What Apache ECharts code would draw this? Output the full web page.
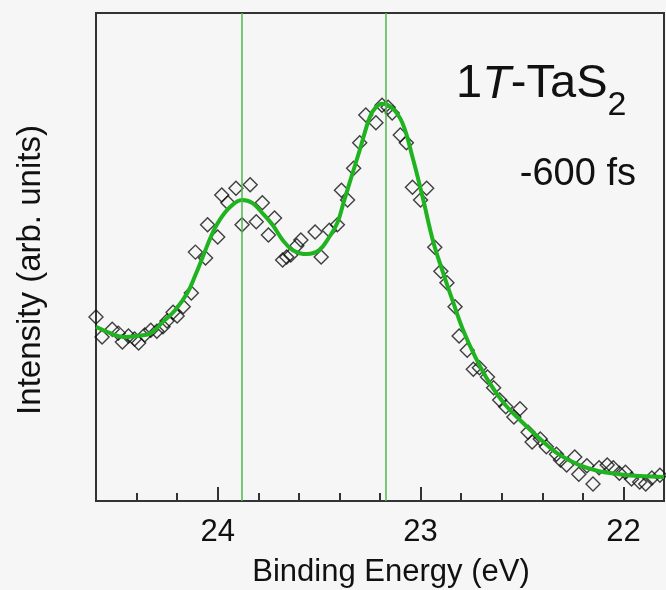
<!DOCTYPE html>
<html>
<head>
<meta charset="utf-8">
<script src="https://cdn.jsdelivr.net/npm/echarts@6/dist/echarts.min.js"></script>
<style>
html,body{margin:0;padding:0;background:#f6f6f6;}
#chart{width:666px;height:590px;}
</style>
</head>
<body>
<div id="chart"></div>
<script>
// Measured points (binding energy in eV, intensity in arb. units)
const pointEnergy = [24.60,24.57,24.52,24.49,24.47,24.44,24.41,24.39,24.36,24.33,24.30,24.27,24.25,24.22,24.20,24.17,24.13,24.11,24.06,24.05,24.00,23.98,23.95,23.91,23.88,23.84,23.81,23.78,23.75,23.72,23.68,23.66,23.64,23.61,23.59,23.52,23.49,23.45,23.41,23.39,23.36,23.33,23.30,23.27,23.22,23.19,23.16,23.14,23.10,23.07,23.04,23.00,22.97,22.93,22.90,22.87,22.83,22.81,22.77,22.74,22.71,22.67,22.64,22.61,22.58,22.54,22.51,22.47,22.45,22.41,22.38,22.33,22.31,22.28,22.24,22.22,22.18,22.15,22.12,22.08,22.05,22.02,21.99,21.96,21.92,21.89,21.86,21.82];
const pointIntensity = [37.7,33.6,35.2,34.4,32.6,33.8,33.2,32.4,34.0,35.0,34.8,35.7,36.9,38.7,37.9,39.8,42.6,51.0,49.8,56.6,54.1,62.7,61.1,64.1,56.6,64.8,57.2,61.1,54.5,58.0,49.4,50.0,50.4,52.3,53.5,55.1,50.0,55.5,56.6,63.7,61.7,68.2,73.4,79.1,77.5,81.1,80.7,79.5,75.0,73.4,64.3,61.7,64.1,52.0,47.1,44.7,39.8,33.8,30.9,27.0,27.3,25.4,23.2,20.7,19.3,17.2,18.9,14.1,12.1,12.7,11.1,9.6,8.4,7.4,9.0,5.5,7.2,3.5,6.8,7.4,6.8,5.7,5.9,4.5,3.9,3.5,4.7,5.3];
// Fit curve
const fitEnergy = [24.60,24.53,24.46,24.40,24.33,24.27,24.21,24.15,24.11,24.07,24.03,23.99,23.94,23.88,23.83,23.78,23.73,23.68,23.63,23.56,23.50,23.45,23.41,23.38,23.35,23.30,23.25,23.22,23.19,23.14,23.09,23.04,22.99,22.94,22.89,22.84,22.79,22.73,22.66,22.59,22.51,22.41,22.32,22.22,22.12,22.02,21.92,21.80];
const fitIntensity = [35.7,34.4,33.6,33.8,34.4,36.7,39.1,42.6,46.3,50.4,54.5,57.6,60.2,61.7,61.1,59.0,56.6,53.5,51.4,50.6,51.4,54.1,57.0,61.1,65.2,71.9,78.7,80.7,81.4,80.5,77.5,70.5,62.3,53.5,46.9,40.8,35.0,29.5,24.2,20.1,16.6,12.7,9.6,7.4,6.1,5.5,5.1,4.9];
// Peak marker lines
const peakLines = [23.875, 23.17];
// Axis
const xMin = 21.8, xMax = 24.6, minorStep = 0.2;
const majorTicks = [22, 23, 24];

const tickCats = [];
for (let i = 0; xMin + i * minorStep <= xMax + 1e-9; i++) {
  tickCats.push((xMin + i * minorStep).toFixed(1));
}
const isMajor = v => majorTicks.some(m => Math.abs(Number(v) - m) < 1e-6);

const FONT = '"Liberation Sans", Arial, sans-serif';
const chart = echarts.init(document.getElementById('chart'), null, {renderer: 'canvas'});
chart.setOption({
  backgroundColor: '#f6f6f6',
  animation: false,
  grid: {left: 96, right: 2, top: 13, bottom: 89, show: true, borderColor: '#333', borderWidth: 2,
    backgroundColor: 'transparent', containLabel: false, outerBoundsMode: 'none'},
  xAxis: [{
    type: 'value', min: xMin, max: xMax, interval: minorStep, inverse: true,
    axisLine: {show: true, lineStyle: {color: '#333', width: 2}},
    axisTick: {show: true, inside: true, length: 8, lineStyle: {color: '#333', width: 2}},
    axisLabel: {show: true, margin: 16, color: '#111', fontSize: 31, fontFamily: FONT,
      formatter: v => isMajor(v) ? String(Math.round(v)) : ''},
    splitLine: {show: false},
    name: 'Binding Energy (eV)', nameLocation: 'middle', nameGap: 56,
    nameTextStyle: {color: '#111', fontSize: 31, fontFamily: FONT, padding: [0, 0, 0, 22]}
  }, {
    type: 'category', data: tickCats, boundaryGap: false, inverse: true, position: 'bottom',
    axisLine: {show: false},
    axisLabel: {show: false},
    axisTick: {show: true, inside: true, length: 14, interval: (i, v) => isMajor(v), lineStyle: {color: '#333', width: 2}},
    splitLine: {show: false}
  }],
  yAxis: {
    type: 'value', min: 0, max: 100,
    axisLine: {show: true, lineStyle: {color: '#333', width: 2}},
    axisTick: {show: false}, axisLabel: {show: false}, splitLine: {show: false},
    name: 'Intensity (arb. units)', nameLocation: 'middle', nameGap: 49,
    nameTextStyle: {color: '#111', fontSize: 33, fontFamily: FONT, padding: [0, 26, 0, 0]}
  },
  series: [{
    type: 'scatter', xAxisIndex: 0,
    data: pointEnergy.map((e, i) => [e, pointIntensity[i]]),
    symbol: 'diamond', symbolSize: 14,
    itemStyle: {color: 'rgba(0,0,0,0)', borderColor: '#111', borderWidth: 1.4},
    z: 3,
    markLine: {
      silent: true, symbol: 'none', label: {show: false},
      lineStyle: {color: '#4cb84c', width: 1.5, type: 'solid'},
      data: peakLines.map(v => ({xAxis: v}))
    }
  }, {
    type: 'line', xAxisIndex: 0,
    data: fitEnergy.map((e, i) => [e, fitIntensity[i]]),
    smooth: 0.4, showSymbol: false,
    lineStyle: {color: '#20b320', width: 4},
    z: 4
  }],
  graphic: [{
    type: 'text', x: 456, y: 76, z: 10,
    style: {
      text: '{a|1}{b|T}{a|-TaS}{s|2}',
      fill: '#111', align: 'left', verticalAlign: 'top',
      rich: {
        a: {fontSize: 47, fontFamily: FONT, lineHeight: 47, padding: [0, 0, 15, 0], verticalAlign: 'bottom', fill: '#111'},
        b: {fontSize: 47, fontFamily: FONT, fontStyle: 'italic', lineHeight: 47, padding: [0, 0, 15, 0], verticalAlign: 'bottom', fill: '#111'},
        s: {fontSize: 34, fontFamily: FONT, lineHeight: 34, verticalAlign: 'bottom', fill: '#111'}
      }
    }
  }, {
    type: 'text', x: 636, y: 175, z: 10,
    style: {text: '-600 fs', fill: '#111', fontSize: 38, fontFamily: FONT, align: 'right', verticalAlign: 'middle'}
  }]
});
</script>
</body>
</html>
